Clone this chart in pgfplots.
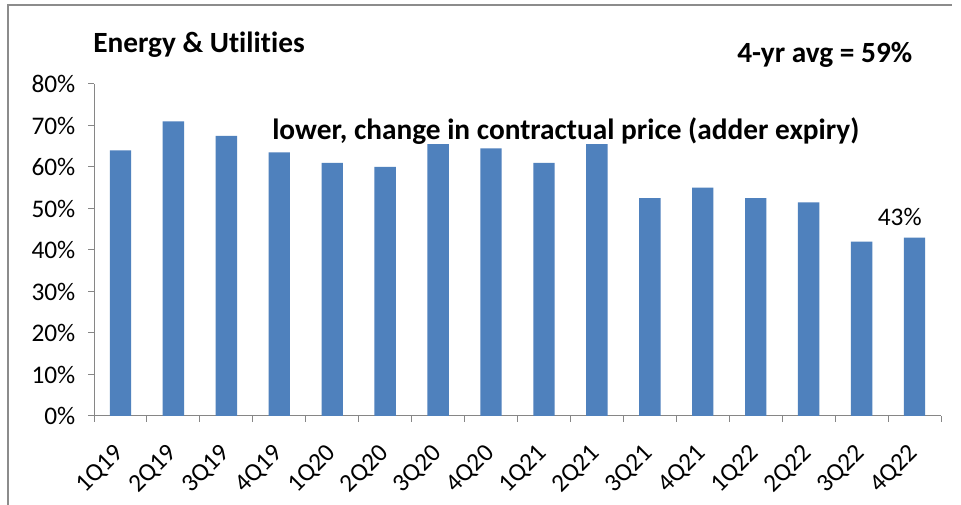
\documentclass[border=0pt]{standalone}
\usepackage{fontspec}
\setmainfont{Carlito}[Ligatures=NoCommon]
\usepackage{pgfplots}
\pgfplotsset{compat=1.18}
\definecolor{barblue}{HTML}{4F81BD}
\definecolor{axgray}{HTML}{868686}
\definecolor{framegray}{HTML}{8C8C8C}

\begin{document}
\begin{tikzpicture}[x=0.75pt,y=0.75pt]
% picture is 961 x 505 px, 1 px = 0.75pt, origin at bottom left
\useasboundingbox (0,0) rectangle (961,505);
\fill[white] (0,0) rectangle (961,505);
\draw[framegray,line width=1.5pt] (8,0) -- (8,500) -- (952,500);

\begin{axis}[
    at={(70.5pt,66.75pt)}, anchor=south west,
    scale only axis, width=635.25pt, height=249pt,
    xmin=-0.5, xmax=15.5, ymin=0, ymax=80,
    axis x line=bottom, axis y line=left,
    axis line style={-, axgray, line width=0.75pt},
    ybar, bar width=16pt,
    ytick={0,10,...,80},
    yticklabel={\pgfmathprintnumber{\tick}\%},
    xtick={0,...,15},
    xticklabels={1Q19,2Q19,3Q19,4Q19,1Q20,2Q20,3Q20,4Q20,1Q21,2Q21,3Q21,4Q21,1Q22,2Q22,3Q22,4Q22},
    minor xtick={-0.5,0.5,...,15.5},
    major x tick style={draw=none},
    tick align=outside, major tick length=4.5pt, minor tick length=4.5pt,
    tick style={axgray, line width=0.75pt},
    /pgf/number format/assume math mode=true,
    ticklabel style={font=\fontsize{19}{21}\selectfont, text=black},
    yticklabel style={anchor=east, xshift=-6pt},
    % shifts act in the rotated frame
    xticklabel style={rotate=45, anchor=north east, inner sep=0pt, xshift=-14.6pt, yshift=-6.6pt},
    clip=false,
]
\addplot[fill=barblue, draw=none] coordinates {
    (0,64) (1,71) (2,67.5) (3,63.5) (4,61) (5,60) (6,65.5) (7,64.5)
    (8,61) (9,65.5) (10,52.5) (11,55) (12,52.5) (13,51.5) (14,42) (15,43)
};
\node[anchor=base, inner sep=0pt, font=\fontsize{19}{21}\selectfont] at (axis cs:14.72,45.8) {43\%};
\end{axis}

\node[anchor=base west, inner sep=0pt, font=\bfseries\fontsize{22}{26}\selectfont] at (93,452) {Energy \& Utilities};
\node[anchor=base west, inner sep=0pt, font=\bfseries\fontsize{22}{26}\selectfont] at (737,442) {4-yr avg = 59\%};
\node[anchor=base west, inner sep=0pt, font=\bfseries\fontsize{22}{26}\selectfont] at (272,365) {lower, change in contractual price (adder expiry)};
\end{tikzpicture}
\end{document}
